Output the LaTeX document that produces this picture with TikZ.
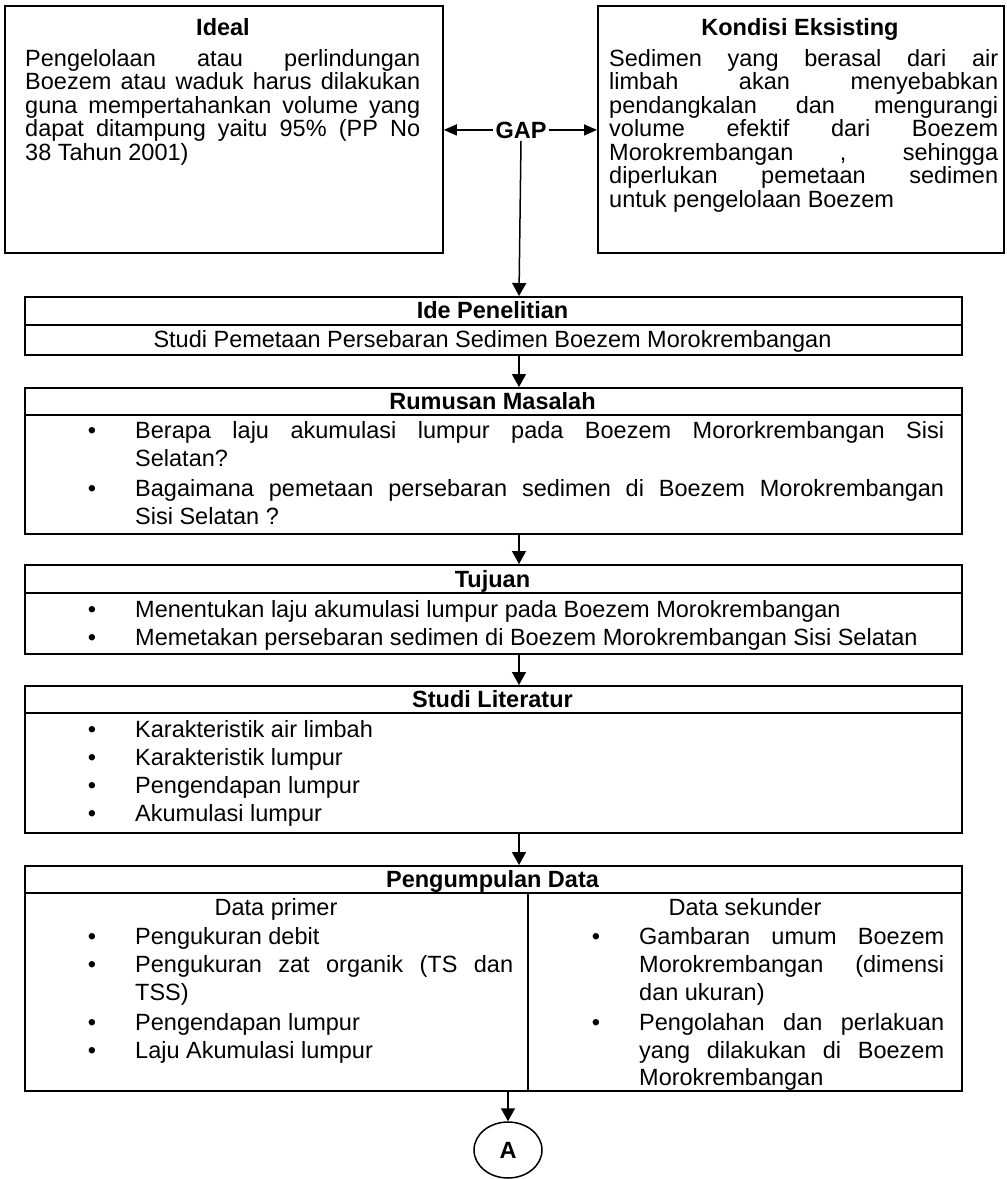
\documentclass[tikz,border=0pt]{standalone}
\usepackage{fontspec}
\setmainfont{Liberation Sans}
\usetikzlibrary{arrows.meta,shapes.geometric}
\newcommand{\jl}[2]{\makebox[#1pt][s]{#2}}
\begin{document}
\begin{tikzpicture}[x=1pt,y=-1pt,
  box/.style={draw,line width=1.8pt,inner sep=0pt,anchor=north west},
  sep/.style={line width=1.8pt},
  arr/.style={line width=1.5pt,-{Triangle[length=13pt,width=14pt]}},
  harr/.style={line width=1.5pt,-{Triangle[length=13pt,width=11pt]}},
  txt/.style={inner sep=0pt,anchor=base west,font=\fontsize{23.5}{27}\selectfont},
  ctr/.style={inner sep=0pt,anchor=base,font=\fontsize{23.5}{27}\selectfont},
  ttl/.style={inner sep=0pt,anchor=base,font=\fontsize{23.5}{27}\selectfont\bfseries},
  bul/.style={inner sep=0pt,anchor=base,font=\fontsize{23.5}{27}\selectfont},
]
\useasboundingbox (0,0) rectangle (1007,1179);
\coordinate (axis) at (519,0);

% ---------- top boxes ----------
\node[box,minimum width=438pt,minimum height=247pt] (ideal) at (4,5) {};
\node[ttl] (idealT) at (223,35) {Ideal};
\node[txt] (i1) at (25,66) {\jl{395}{Pengelolaan atau perlindungan}};
\node[txt] (i2) at (25,89.5) {\jl{395}{Boezem atau waduk harus dilakukan}};
\node[txt] (i3) at (25,113) {\jl{395}{guna mempertahankan volume yang}};
\node[txt] (i4) at (25,136.5) {\jl{395}{dapat ditampung yaitu 95\% (PP No}};
\node[txt] (i5) at (25,160) {38 Tahun 2001)};

\node[box,minimum width=406pt,minimum height=247pt] (kond) at (597,5) {};
\node[ttl] (kondT) at (800,35) {Kondisi Eksisting};
\node[txt] (k1) at (609,66) {\jl{389}{Sedimen yang berasal dari air}};
\node[txt] (k2) at (609,89.5) {\jl{389}{limbah akan menyebabkan}};
\node[txt] (k3) at (609,113) {\jl{389}{pendangkalan dan mengurangi}};
\node[txt] (k4) at (609,136.5) {\jl{389}{volume efektif dari Boezem}};
\node[txt] (k5) at (609,160) {\jl{389}{Morokrembangan , sehingga}};
\node[txt] (k6) at (609,183.5) {\jl{389}{diperlukan pemetaan sedimen}};
\node[txt] (k7) at (609,207) {untuk pengelolaan Boezem};

\node[ttl,inner sep=2.5pt] (gap) at (521,138) {GAP};

% ---------- Ide Penelitian ----------
\node[box,minimum width=937pt,minimum height=58pt] (ide) at (24,296) {};
\draw[sep] (24,325) -- (961,325);
\node[ttl] (ideT) at (492.5,318) {Ide Penelitian};
\node[ctr] (ide1) at (492.5,347) {Studi Pemetaan Persebaran Sedimen Boezem Morokrembangan};

% ---------- Rumusan Masalah ----------
\node[box,minimum width=937pt,minimum height=146pt] (rum) at (24,387) {};
\draw[sep] (24,415) -- (961,415);
\node[ttl] (rumT) at (492.5,409) {Rumusan Masalah};
\node[bul] (rb1) at (92,438) {•};
\node[txt] (r1) at (135,438) {\jl{809}{Berapa laju akumulasi lumpur pada Boezem Mororkrembangan Sisi}};
\node[txt] (r2) at (135,466) {Selatan?};
\node[bul] (rb2) at (92,496) {•};
\node[txt] (r3) at (135,496) {\jl{809}{Bagaimana pemetaan persebaran sedimen di Boezem Morokrembangan}};
\node[txt] (r4) at (135,524) {Sisi Selatan ?};

% ---------- Tujuan ----------
\node[box,minimum width=937pt,minimum height=89pt] (tuj) at (24,564) {};
\draw[sep] (24,593) -- (961,593);
\node[ttl] (tujT) at (492.5,587) {Tujuan};
\node[bul] (tb1) at (92,617) {•};
\node[txt] (t1) at (135,617) {Menentukan laju akumulasi lumpur pada Boezem Morokrembangan};
\node[bul] (tb2) at (92,645) {•};
\node[txt] (t2) at (135,645) {Memetakan persebaran sedimen di Boezem Morokrembangan Sisi Selatan};

% ---------- Studi Literatur ----------
\node[box,minimum width=937pt,minimum height=147pt] (stu) at (24,685) {};
\draw[sep] (24,713) -- (961,713);
\node[ttl] (stuT) at (492.5,707) {Studi Literatur};
\node[bul] (sb1) at (92,737) {•};
\node[txt] (s1) at (135,737) {Karakteristik air limbah};
\node[bul] (sb2) at (92,765) {•};
\node[txt] (s2) at (135,765) {Karakteristik lumpur};
\node[bul] (sb3) at (92,793) {•};
\node[txt] (s3) at (135,793) {Pengendapan lumpur};
\node[bul] (sb4) at (92,821) {•};
\node[txt] (s4) at (135,821) {Akumulasi lumpur};

% ---------- Pengumpulan Data ----------
\node[box,minimum width=937pt,minimum height=225pt] (pd) at (24,865) {};
\draw[sep] (24,893) -- (961,893);
\draw[line width=1.5pt] (528,893) -- (528,1090);
\node[ttl] (pdT) at (492.5,887) {Pengumpulan Data};
\node[ctr] (pL) at (276,915) {Data primer};
\node[bul] (pb1) at (92,944) {•};
\node[txt] (p1) at (135,944) {Pengukuran debit};
\node[bul] (pb2) at (92,972) {•};
\node[txt] (p2) at (135,972) {\jl{378}{Pengukuran zat organik (TS dan}};
\node[txt] (p3) at (135,1000) {TSS)};
\node[bul] (pb3) at (92,1030) {•};
\node[txt] (p4) at (135,1030) {Pengendapan lumpur};
\node[bul] (pb4) at (92,1058) {•};
\node[txt] (p5) at (135,1058) {Laju Akumulasi lumpur};

\node[ctr] (pR) at (745,915) {Data sekunder};
\node[bul] (qb1) at (596,944) {•};
\node[txt] (q1) at (639,944) {\jl{305}{Gambaran umum Boezem}};
\node[txt] (q2) at (639,972) {\jl{305}{Morokrembangan (dimensi}};
\node[txt] (q3) at (639,1000) {dan ukuran)};
\node[bul] (qb2) at (596,1030) {•};
\node[txt] (q4) at (639,1030) {\jl{305}{Pengolahan dan perlakuan}};
\node[txt] (q5) at (639,1058) {\jl{305}{yang dilakukan di Boezem}};
\node[txt] (q6) at (639,1085) {Morokrembangan};

% ---------- connector A ----------
\node[draw,ellipse,line width=1.5pt,minimum width=68pt,minimum height=56pt,inner sep=0pt,
      font=\fontsize{23.5}{27}\selectfont\bfseries] (A) at (508,1150) {A};

% ---------- connectors ----------
\draw[harr] (gap.west) -- (gap.west -| ideal.east);
\draw[harr] (gap.east) -- (gap.east -| kond.west);
\draw[arr] (gap.south) -- (ide.north -| axis);
\draw[arr] (ide.south -| axis) -- (rum.north -| axis);
\draw[arr] (rum.south -| axis) -- (tuj.north -| axis);
\draw[arr] (tuj.south -| axis) -- (stu.north -| axis);
\draw[arr] (stu.south -| axis) -- (pd.north -| axis);
\draw[arr] (pd.south -| A.north) -- (A.north);
\end{tikzpicture}
\end{document}
